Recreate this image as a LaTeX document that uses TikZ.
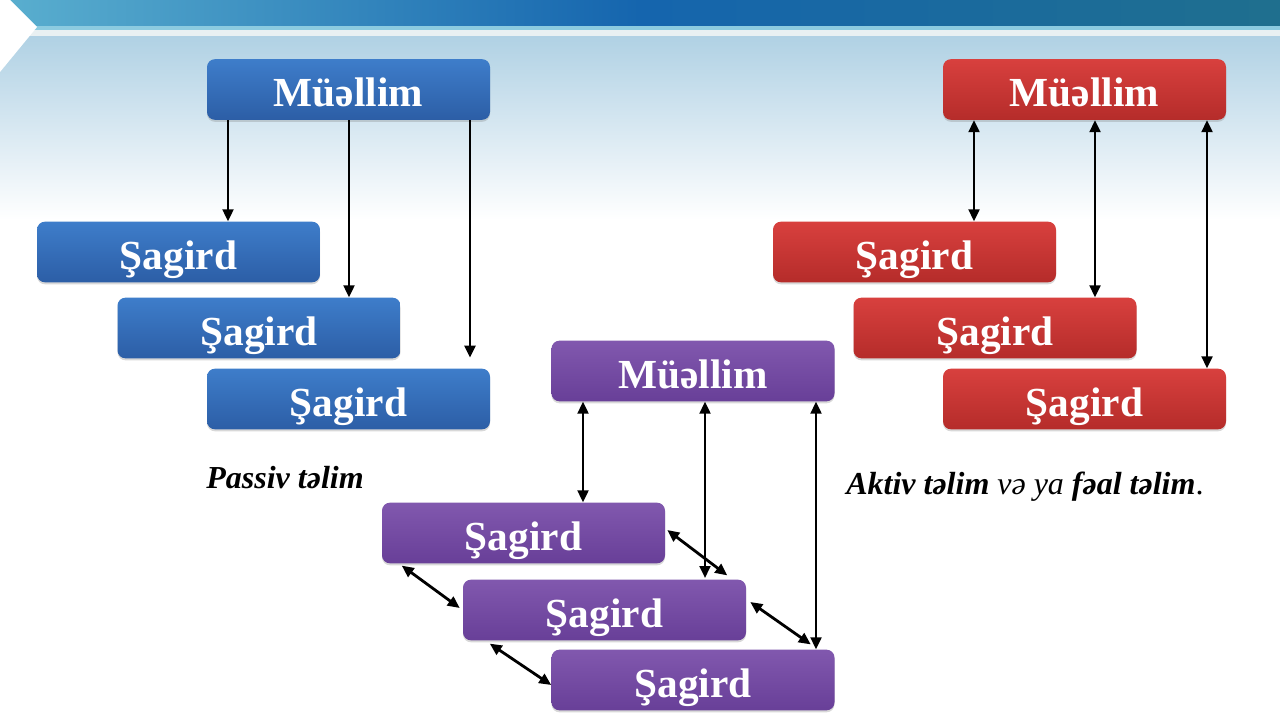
\documentclass[tikz,border=0pt]{standalone}
\usepackage{fontspec}
\setmainfont{Liberation Serif}
\usetikzlibrary{arrows.meta,shadows,calc}
\definecolor{bTop}{HTML}{3E7DCA}
\definecolor{bBot}{HTML}{2C5EA6}
\definecolor{rTop}{HTML}{D8403E}
\definecolor{rBot}{HTML}{B52C2A}
\definecolor{pTop}{HTML}{8158AE}
\definecolor{pBot}{HTML}{683F98}
\definecolor{hdrL}{HTML}{5AAFCF}
\definecolor{hdrM}{HTML}{1565AE}
\definecolor{hdrR}{HTML}{1F6F8E}
\definecolor{bgTop}{HTML}{B0D1E4}
\tikzset{
  box/.style={rounded corners=6pt, minimum width=212.25pt, minimum height=45.5pt,
    inner sep=0pt, text=white, font=\bfseries\fontsize{31}{31}\selectfont,
    text height=26pt, text depth=0pt,
    drop shadow={opacity=0.3, shadow xshift=0pt, shadow yshift=-1.5pt}},
  bluebox/.style={box, top color=bTop, bottom color=bBot},
  redbox/.style={box, top color=rTop, bottom color=rBot},
  purplebox/.style={box, top color=pTop, bottom color=pBot},
  arr/.style={line width=2.1pt, -{Triangle[length=9pt,width=8pt]}},
  darr/.style={line width=2.1pt, {Triangle[length=9pt,width=8pt]}-{Triangle[length=9pt,width=8pt]}},
  lbl/.style={inner sep=0pt, font=\fontsize{24}{24}\selectfont}
}
\begin{document}
\begin{tikzpicture}[x=0.75pt,y=-0.75pt]
\useasboundingbox (0,0) rectangle (1280,720);
% background
\fill[white] (0,0) rectangle (1280,720);
\shade[top color=bgTop, bottom color=white] (0,36) rectangle (1280,220);
\shade[left color=hdrL, right color=hdrR, middle color=hdrM] (0,0) rectangle (1280,26);
\fill[color={rgb,255:red,140;green,203;blue,224}] (0,26) rectangle (1280,30);
\fill[color={rgb,255:red,232;green,240;blue,242}] (0,30) rectangle (1280,36);
\fill[white] (0,0) -- (10,0) -- (37,27) -- (0,72) -- cycle;

% blue group
\node[bluebox] (bM)  at (348.5,89.5) {Müəllim};
\node[bluebox] (bS1) at (178.5,252) {Şagird};
\node[bluebox] (bS2) at (259,328) {Şagird};
\node[bluebox] (bS3) at (348.5,399) {Şagird};
\draw[arr] (bM.south -| 228,0) -- (bS1.north -| 228,0);
\draw[arr] (bM.south -| 349,0) -- (bS2.north -| 349,0);
\draw[arr, shorten >=8pt] (bM.south -| 470,0) -- (bS3.north -| 470,0);
\node[lbl, font=\bfseries\itshape\fontsize{24}{24}\selectfont] (lp) at (285,478) {Passiv təlim};

% red group
\node[redbox] (rM)  at (1084.5,89.5) {Müəllim};
\node[redbox] (rS1) at (914.5,252) {Şagird};
\node[redbox] (rS2) at (995,328) {Şagird};
\node[redbox] (rS3) at (1084.5,399) {Şagird};
\draw[darr] (rM.south -| 974,0) -- (rS1.north -| 974,0);
\draw[darr] (rM.south -| 1095,0) -- (rS2.north -| 1095,0);
\draw[darr] (rM.south -| 1207,0) -- (rS3.north -| 1207,0);
\node[lbl, anchor=west] (la) at (846,487) {\textbf{\textit{Aktiv təlim}} \textit{və ya} \textbf{\textit{fəal təlim}}.};

% purple group
\node[purplebox] (pM)  at (693,371) {Müəllim};
\node[purplebox] (pS1) at (523.5,533) {Şagird};
\node[purplebox] (pS2) at (604.5,610) {Şagird};
\node[purplebox] (pS3) at (693,680) {Şagird};
\draw[darr] (pM.south -| 583,0) -- (pS1.north -| 583,0);
\draw[darr, shorten >=1pt] (pM.south -| 705,0) -- (pS2.north -| 705,0);
\draw[darr] (pM.south -| 816,0) -- (pS3.north -| 816,0);
\draw[darr] ($(pS1.east)+(2,-3)$) -- ($(pS2.north east)+(-19,-4)$);
\draw[darr] ($(pS1.south west)+(20,2)$) -- ($(pS2.west)+(-3,-2)$);
\draw[darr] ($(pS2.east)+(4,-8)$) -- ($(pS3.north east)+(-24,-5)$);
\draw[darr] ($(pS2.south west)+(27,3)$) -- ($(pS3.west)+(0,5)$);
\end{tikzpicture}
\end{document}
